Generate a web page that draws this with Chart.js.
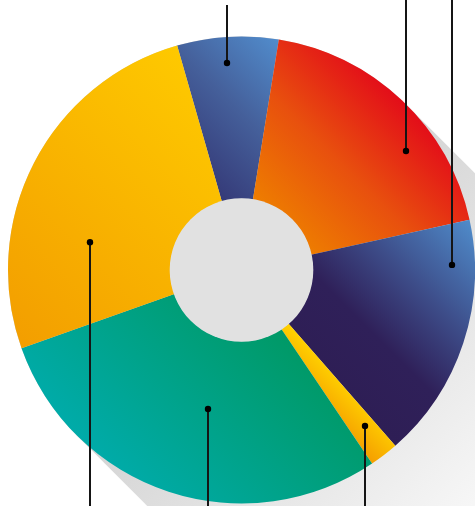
<!DOCTYPE html>
<html><head><meta charset="utf-8">
<script src="https://cdn.jsdelivr.net/npm/chart.js@4.4.0/dist/chart.umd.min.js"></script>
<style>html,body{margin:0;padding:0;background:#fff;}canvas{display:block;}</style>
</head><body>
<canvas id="c" width="475" height="506"></canvas>
<script>
// ---- data ----
const categories = ['Segment A', 'Segment B', 'Segment C', 'Segment D', 'Segment E', 'Segment F'];
const values = [7, 19, 17, 2, 29, 26];

// ---- styles ----
const rotationDeg = -16;
const cutoutFrac = 0.305;
const holeColor = '#e1e1e1';
// gradient stops per segment, running from upper-right to lower-left
const gradientStops = [
  [[0, '#518ccc'], [0.5, '#45609b'], [1, '#353a78']],
  [[0, '#e30d19'], [0.5, '#e8500e'], [1, '#ee7e00']],
  [[0, '#4f8bca'], [0.42, '#3c4985'], [0.7, '#2f2059'], [1, '#2e1e55']],
  [[0, '#ffd200'], [1, '#f59e00']],
  [[0, '#009966'], [1, '#00aba9']],
  [[0, '#fec900'], [1, '#f39e00']]
];
// leader-dot placement inside each segment (fraction of angle span, fraction of radius, line direction)
const leaderAngleFrac = [0.476, 0.656, 0.18, 0.39, 0.455, 0.32];
const leaderRadiusFrac = [0.889, 0.869, 0.902, 0.852, 0.612, 0.66];
const leaderDir = ['up', 'up', 'up', 'down', 'down', 'down'];

function segmentGradient(context) {
  const chart = context.chart;
  const area = chart.chartArea;
  const i = context.dataIndex;
  const stops = gradientStops[i] || gradientStops[0];
  if (!area || i === undefined) return stops[0][1];
  const cx = (area.left + area.right) / 2, cy = (area.top + area.bottom) / 2;
  const R = Math.min(area.right - area.left, area.bottom - area.top) / 2;
  const rIn = R * cutoutFrac;
  const total = values.reduce((a, b) => a + b, 0);
  let start = (rotationDeg - 90) * Math.PI / 180;
  for (let k = 0; k < i; k++) start += values[k] / total * 2 * Math.PI;
  const end = start + values[i] / total * 2 * Math.PI;
  let mn = Infinity, mx = -Infinity;
  for (let s = 0; s <= 60; s++) {
    const a = start + (end - start) * s / 60;
    for (const r of [R, rIn]) {
      const px = r * Math.cos(a), py = r * Math.sin(a);
      const p = (-px + py) / Math.SQRT2;
      mn = Math.min(mn, p); mx = Math.max(mx, p);
    }
  }
  const k = 1 / Math.SQRT2;
  const g = chart.ctx.createLinearGradient(cx - mn * k, cy + mn * k, cx - mx * k, cy + mx * k);
  stops.forEach(s => g.addColorStop(s[0], s[1]));
  return g;
}

const decorPlugin = {
  id: 'decor',
  beforeDraw(chart) {
    const ctx = chart.ctx;
    ctx.save();
    ctx.fillStyle = '#ffffff';
    ctx.fillRect(0, 0, chart.width, chart.height);
    ctx.restore();
  },
  beforeDatasetsDraw(chart) {
    const el = chart.getDatasetMeta(0).data[0];
    if (!el) return;
    const ctx = chart.ctx;
    const cx = el.x, cy = el.y, R = el.outerRadius;
    const k = R / Math.SQRT2;
    const L = 1000;
    ctx.save();
    const g = ctx.createLinearGradient(cx, cy, cx + 290, cy + 290);
    g.addColorStop(0, '#d2d2d2');
    g.addColorStop(1, '#ffffff');
    ctx.fillStyle = g;
    ctx.beginPath();
    ctx.moveTo(cx + k, cy - k);
    ctx.lineTo(cx + k + L, cy - k + L);
    ctx.lineTo(cx - k + L, cy + k + L);
    ctx.lineTo(cx - k, cy + k);
    ctx.closePath();
    ctx.fill();
    ctx.beginPath();
    ctx.arc(cx, cy, R, 0, Math.PI * 2);
    ctx.fill();
    ctx.restore();
  },
  afterDatasetsDraw(chart) {
    const meta = chart.getDatasetMeta(0);
    const ctx = chart.ctx;
    const first = meta.data[0];
    if (!first) return;
    ctx.save();
    ctx.fillStyle = holeColor;
    ctx.beginPath();
    ctx.arc(first.x, first.y, first.innerRadius + 0.6, 0, Math.PI * 2);
    ctx.fill();
    meta.data.forEach((el, i) => {
      const a = el.startAngle + (el.endAngle - el.startAngle) * leaderAngleFrac[i];
      const r = el.outerRadius * leaderRadiusFrac[i];
      const x = Math.round(el.x + r * Math.cos(a)) + 0.0;
      const y = el.y + r * Math.sin(a);
      ctx.strokeStyle = '#151515';
      ctx.lineWidth = 2;
      ctx.beginPath();
      ctx.moveTo(x, y);
      ctx.lineTo(x, leaderDir[i] === 'up' ? (i === 0 ? 5 : 0) : chart.height);
      ctx.stroke();
      ctx.fillStyle = '#000000';
      ctx.beginPath();
      ctx.arc(x, y, 3.2, 0, Math.PI * 2);
      ctx.fill();
    });
    ctx.restore();
  }
};

new Chart(document.getElementById('c'), {
  type: 'doughnut',
  data: {
    labels: categories,
    datasets: [{
      data: values,
      backgroundColor: segmentGradient,
      borderWidth: 0,
      hoverOffset: 0
    }]
  },
  options: {
    responsive: false,
    animation: false,
    events: [],
    rotation: rotationDeg,
    cutout: (cutoutFrac * 100) + '%',
    layout: { padding: { left: 8, right: 0, top: 36, bottom: 2 } },
    plugins: { legend: { display: false }, tooltip: { enabled: false } }
  },
  plugins: [decorPlugin]
});
</script>
</body></html>
